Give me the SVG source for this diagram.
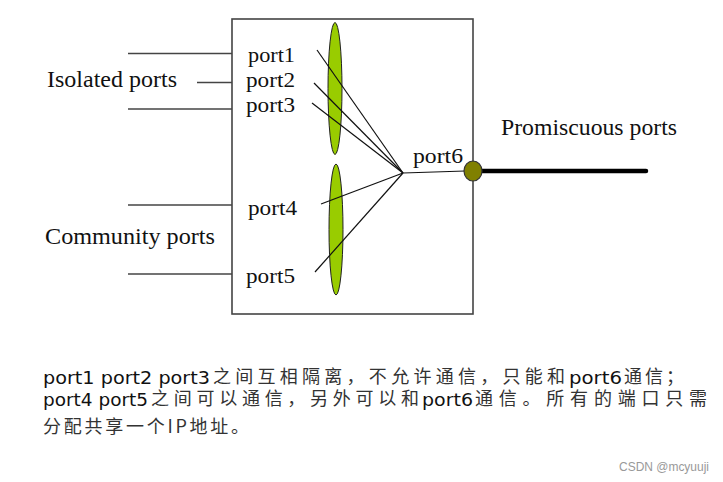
<svg xmlns="http://www.w3.org/2000/svg" width="723" height="482" viewBox="0 0 723 482">
<style>
.lbl{font-family:"Liberation Serif","Times New Roman",serif;font-size:22px;fill:#111}
.grp{font-family:"Liberation Serif","Times New Roman",serif;font-size:24px;fill:#111}
.wire{stroke:#444;stroke-width:1.6;fill:none}
.fan{stroke:#111;stroke-width:1.2;fill:none}
.vlan{fill:#99cc00;stroke:#222;stroke-width:1}
.lat{font-family:"DejaVu Sans","Liberation Sans",sans-serif;font-size:18px;fill:#111}
.cjk{font-family:"Noto Sans CJK SC","Noto Sans",sans-serif;font-size:18px;fill:#333}
</style>
<rect width="723" height="482" fill="#fff"/>
<g id="switch">
<rect x="232" y="19" width="241" height="295" fill="#fff" stroke="#444" stroke-width="1.6"/>
</g>
<g id="isolated">
<text class="grp" x="47" y="87" textLength="130" lengthAdjust="spacingAndGlyphs">Isolated ports</text>
</g>
<g id="community">
<text class="grp" x="45" y="244" textLength="170" lengthAdjust="spacingAndGlyphs">Community ports</text>
</g>
<g id="promiscuous">
<text class="grp" x="501" y="135" textLength="176" lengthAdjust="spacingAndGlyphs">Promiscuous ports</text>
</g>
<g id="vlan1"><ellipse class="vlan" cx="335" cy="88.5" rx="7" ry="66"/></g>
<g id="vlan2"><ellipse class="vlan" cx="336" cy="229.5" rx="7" ry="65.5"/></g>
<g id="port1"><text class="lbl" x="248" y="61.5" textLength="47" lengthAdjust="spacingAndGlyphs">port1</text></g>
<g id="port2"><text class="lbl" x="246" y="87" textLength="49" lengthAdjust="spacingAndGlyphs">port2</text></g>
<g id="port3"><text class="lbl" x="246" y="111.5" textLength="49" lengthAdjust="spacingAndGlyphs">port3</text></g>
<g id="port4"><text class="lbl" x="248" y="215" textLength="49" lengthAdjust="spacingAndGlyphs">port4</text></g>
<g id="port5"><text class="lbl" x="246" y="283" textLength="49" lengthAdjust="spacingAndGlyphs">port5</text></g>
<g id="port6"><text class="lbl" x="413" y="163" textLength="50" lengthAdjust="spacingAndGlyphs">port6</text></g>
<g id="connectors">
<line class="wire" x1="128" y1="53.5" x2="232" y2="53.5"/>
<line class="wire" x1="197" y1="82.5" x2="232" y2="82.5"/>
<line class="wire" x1="128" y1="109" x2="232" y2="109"/>
<line class="wire" x1="128" y1="205" x2="232" y2="205"/>
<line class="wire" x1="128" y1="274" x2="232" y2="274"/>
<line class="fan" x1="317" y1="50" x2="403" y2="173"/>
<line class="fan" x1="314" y1="83" x2="403" y2="173"/>
<line class="fan" x1="312" y1="103" x2="403" y2="173"/>
<line class="fan" x1="321" y1="204" x2="403" y2="173"/>
<line class="fan" x1="315" y1="272" x2="403" y2="173"/>
<line class="fan" x1="403" y1="173" x2="465" y2="171"/>
<line x1="480" y1="171" x2="646" y2="171" stroke="#000" stroke-width="4.5" stroke-linecap="round"/>
</g>
<g id="uplink">
<ellipse cx="473" cy="171" rx="9" ry="10" fill="#808000" stroke="#333" stroke-width="1.2"/>
</g>
<g id="caption">
<text class="lat" x="43" y="384" textLength="167" lengthAdjust="spacingAndGlyphs">port1 port2 port3</text>
<text class="cjk" x="213" y="383" textLength="352" lengthAdjust="spacing">之间互相隔离，不允许通信，只能和</text>
<text class="lat" x="569" y="384" textLength="53" lengthAdjust="spacingAndGlyphs">port6</text>
<text class="cjk" x="624" y="383" textLength="60" lengthAdjust="spacing">通信；</text>
<text class="lat" x="43" y="406" textLength="105" lengthAdjust="spacingAndGlyphs">port4 port5</text>
<text class="cjk" x="151" y="405" textLength="268" lengthAdjust="spacing">之间可以通信，另外可以和</text>
<text class="lat" x="422" y="406" textLength="51" lengthAdjust="spacingAndGlyphs">port6</text>
<text class="cjk" x="475" y="405" textLength="232" lengthAdjust="spacing">通信。所有的端口只需</text>
<text class="cjk" x="43" y="433" textLength="206" lengthAdjust="spacing">分配共享一个IP地址。</text>
</g>
<g id="watermark">
<text x="619" y="471" font-family="'Liberation Sans',Arial,sans-serif" font-size="12" fill="#999" textLength="90" lengthAdjust="spacingAndGlyphs">CSDN @mcyuuji</text>
</g>
</svg>
